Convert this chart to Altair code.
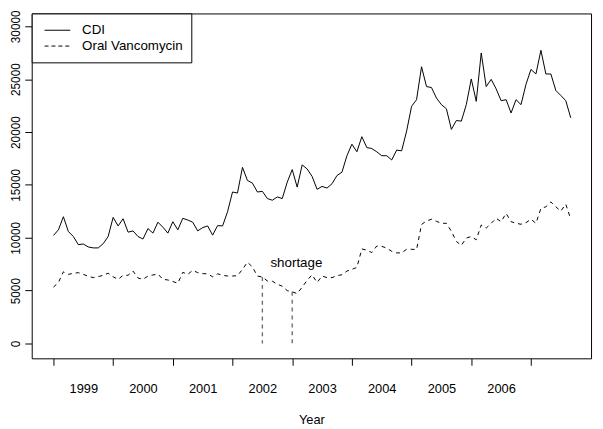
import altair as alt
import pandas as pd

FONT = "Liberation Sans, Arial, Helvetica, sans-serif"

# ---- data (monthly, starting Jan 1999) ----
start_year = 1999
cdi = [10220, 10750, 11990, 10590, 10120, 9350, 9410, 9130, 9040, 9040, 9440, 10120,
       11930, 11120, 11800, 10530, 10650, 10120, 9880, 10870, 10440, 11470, 11000, 10440,
       11520, 10750, 11840, 11680, 11470, 10650, 10960, 11120, 10250, 11150, 11120, 12460,
       14330, 14230, 16660, 15420, 15170, 14330, 14390, 13710, 13550, 13860, 13710, 15260,
       16450, 14790, 16890, 16510, 15800, 14580, 14860, 14700, 15110, 15890, 16200, 17760,
       18850, 18130, 19560, 18530, 18440, 18130, 17760, 17760, 17360, 18290, 18220, 20090,
       22430, 23060, 26170, 24300, 24210, 23210, 22590, 22200, 20250, 21090, 21030, 22590,
       25020, 22900, 27480, 24300, 24980, 24080, 22960, 23060, 21800, 23060, 22590, 24510,
       25920, 25490, 27730, 25490, 25490, 23930, 23460, 22960, 21340]
vanc = [5330, 5770, 6780, 6540, 6640, 6700, 6540, 6360, 6230, 6330, 6450, 6650,
        6310, 6070, 6450, 6450, 6850, 6190, 6070, 6380, 6480, 6570, 6070, 6010,
        5860, 5700, 6730, 6540, 6920, 6700, 6610, 6590, 6310, 6590, 6450, 6380,
        6380, 6420, 7010, 7690, 7240, 6380, 6290, 5920, 5890, 5610, 5420, 5000,
        4890, 4720, 5330, 5980, 6500, 5770, 6380, 6230, 6230, 6420, 6500, 6850,
        7010, 7200, 8940, 8830, 8600, 9220, 9190, 9020, 8720, 8570, 8570, 8910,
        8910, 8880, 11260, 11590, 11750, 11560, 11370, 11370, 10610, 9650, 9280, 9970,
        10120, 9810, 11210, 10910, 11370, 11840, 11520, 12310, 11520, 11370, 11280, 11430,
        11750, 11370, 12780, 12930, 13390, 12930, 12520, 13180, 11750]
series_names = ["CDI", "Oral Vancomycin"]
year_ticks = [1999, 2000, 2001, 2002, 2003, 2004, 2005, 2006, 2007]
y_ticks = [0, 5000, 10000, 15000, 20000, 25000, 30000]
shortage_months = [42, 48]          # Jul 2002, Jan 2003
shortage_label = ["shortage"]
shortage_label_t = [2003.07]
shortage_label_v = [7570]

t = [start_year + i / 12 for i in range(len(cdi))]
df_cdi = pd.DataFrame({"t": t, "value": cdi})
df_vanc = pd.DataFrame({"t": t, "value": vanc})
df_seg = pd.DataFrame({"t": [t[i] for i in shortage_months],
                       "value": [vanc[i] for i in shortage_months],
                       "zero": [0] * len(shortage_months)})
df_lab = pd.DataFrame({"t": shortage_label_t, "value": shortage_label_v, "txt": shortage_label})

W, H = 566, 349
xscale = alt.Scale(domain=[1998.6358, 2008.0066], nice=False, zero=False)
yscale = alt.Scale(domain=[-1402, 31215], nice=False, zero=False)

xaxis = alt.Axis(values=year_ticks, tickSize=7, labelOffset=30.2, labelFlush=False,
                 labelOverlap=False, labelPadding=18, grid=False, domain=False,
                 labelExpr="datum.value < 2007 ? '' + datum.value : ''",
                 title="Year", titleFontWeight="normal", titleFontSize=13,
                 titleFont=FONT, titleColor="black", titleY=62, titleBaseline="middle")
yaxis = alt.Axis(values=y_ticks, tickSize=7, labelAngle=270, labelAlign="center",
                 labelBaseline="bottom", labelPadding=2, labelFontSize=12,
                 grid=False, domain=False, title=None, format="d")

X = alt.X("t:Q", scale=xscale, axis=xaxis)
Y = alt.Y("value:Q", scale=yscale, axis=yaxis)

cdi_line = alt.Chart(df_cdi).mark_line(color="black", strokeWidth=1).encode(x=X, y=Y)
vanc_line = alt.Chart(df_vanc).mark_line(color="black", strokeWidth=1,
                                         strokeDash=[4, 4]).encode(x=X, y=Y)
segs = alt.Chart(df_seg).mark_rule(color="#6e6e6e", strokeWidth=1.4,
                                   strokeDash=[4, 4]).encode(x=X, y=Y, y2="zero:Q")
lab = alt.Chart(df_lab).mark_text(font=FONT, fontSize=13.5, color="black",
                                  baseline="middle", align="center").encode(x=X, y=Y, text="txt:N")

# ---- legend box (top-left) ----
one = pd.DataFrame({"a": [0]})
leg_box = alt.Chart(one).mark_rect(fill="white", stroke="black", strokeWidth=1).encode(
    x=alt.value(0.5), x2=alt.value(162), y=alt.value(0.5), y2=alt.value(50))
leg_l1 = alt.Chart(one).mark_rule(color="black", strokeWidth=1).encode(
    x=alt.value(13), x2=alt.value(39), y=alt.value(17))
leg_l2 = alt.Chart(one).mark_rule(color="black", strokeWidth=1, strokeDash=[4, 3]).encode(
    x=alt.value(13), x2=alt.value(39), y=alt.value(33))
leg_t1 = alt.Chart(pd.DataFrame({"s": [series_names[0]]})).mark_text(
    font=FONT, fontSize=13.5, align="left", baseline="middle", color="black").encode(
    x=alt.value(51), y=alt.value(17), text="s:N")
leg_t2 = alt.Chart(pd.DataFrame({"s": [series_names[1]]})).mark_text(
    font=FONT, fontSize=13.5, align="left", baseline="middle", color="black").encode(
    x=alt.value(51), y=alt.value(33), text="s:N")

chart = alt.layer(cdi_line, vanc_line, segs, lab,
                  leg_box, leg_l1, leg_l2, leg_t1, leg_t2).properties(
    width=W, height=H,
    autosize=alt.AutoSizeParams(type="none"),
    padding={"left": 24, "top": 3, "right": 4, "bottom": 69},
    background="white",
).configure_view(stroke="black", strokeWidth=1).configure_axis(
    labelFont=FONT, labelFontSize=13, labelColor="black", tickColor="black",
    tickWidth=1, titleFont=FONT,
)

chart.save("out.html", embed_options={"renderer": "svg", "actions": False})
